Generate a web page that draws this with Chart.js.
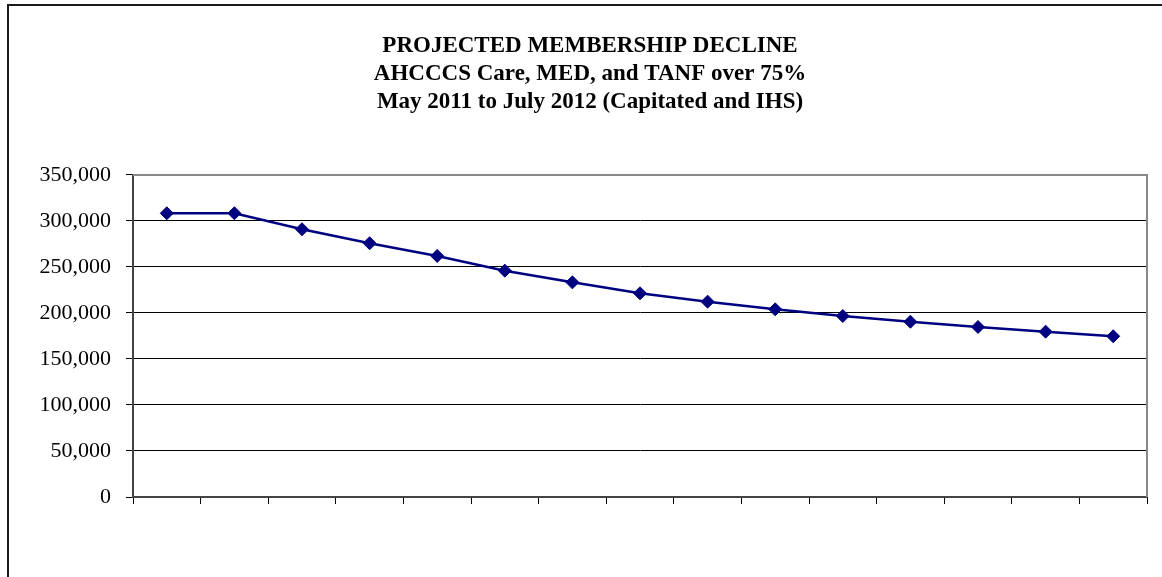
<!DOCTYPE html>
<html>
<head>
<meta charset="utf-8">
<script src="https://cdn.jsdelivr.net/npm/chart.js@4/dist/chart.umd.min.js"></script>
<style>
  html, body { margin: 0; padding: 0; background: #fff; }
  #wrap { width: 1162px; height: 577px; }
</style>
</head>
<body>
<div id="wrap"><canvas id="memberChart" width="1162" height="577"></canvas></div>
<script>
var months = ['May-11', 'Jun-11', 'Jul-11', 'Aug-11', 'Sep-11', 'Oct-11', 'Nov-11', 'Dec-11',
              'Jan-12', 'Feb-12', 'Mar-12', 'Apr-12', 'May-12', 'Jun-12', 'Jul-12'];
var members = [308400, 308400, 291000, 275800, 262000, 246000, 233300, 221400,
               212300, 204000, 196700, 190500, 184800, 179700, 174700];
var titleLines = ['PROJECTED MEMBERSHIP DECLINE',
                  'AHCCCS Care, MED, and TANF over 75%',
                  'May 2011 to July 2012 (Capitated and IHS)'];
var yMin = 0, yMax = 350000, yStep = 50000;

var serif = "'Liberation Serif', 'Times New Roman', serif";

// white page + outer chart border, grey plot frame on top/right
var framePlugin = {
  id: 'frame',
  afterLayout: function(chart) {
    // the original chart box runs past the right edge, so its title sits a bit right of centre
    if (chart.titleBlock) chart.titleBlock.right = 1180;
  },
  beforeDraw: function(chart) {
    var ctx = chart.ctx;
    ctx.save();
    ctx.fillStyle = '#fff';
    ctx.fillRect(0, 0, chart.width, chart.height);
    ctx.strokeStyle = '#1a1a1a';
    ctx.lineWidth = 2;
    ctx.strokeRect(8, 5, chart.width + 20, chart.height + 20);
    ctx.restore();
  },
  afterDatasetsDraw: function(chart) {
    var a = chart.chartArea, ctx = chart.ctx;
    ctx.save();
    ctx.strokeStyle = '#888';
    ctx.lineWidth = 2;
    ctx.beginPath();
    ctx.moveTo(a.left, a.top);
    ctx.lineTo(a.right, a.top);
    ctx.lineTo(a.right, a.bottom);
    ctx.stroke();
    ctx.restore();
  }
};

var lineChart = new Chart(document.getElementById('memberChart'), {
  type: 'line',
  data: {
    labels: months,
    datasets: [{
      data: members,
      borderColor: '#000080',
      borderWidth: 2.5,
      backgroundColor: '#000080',
      pointStyle: 'rectRot',
      pointRadius: 6.5,
      pointBorderWidth: 1,
      pointBackgroundColor: '#000080',
      pointBorderColor: '#000080',
      tension: 0,
      fill: false
    }]
  },
  options: {
    responsive: false,
    animation: false,
    devicePixelRatio: 1,
    layout: { padding: { left: 0, right: 15, top: 0, bottom: 0 } },
    plugins: {
      legend: { display: false },
      tooltip: { enabled: false },
      title: {
        display: true,
        text: titleLines,
        color: '#000',
        font: { family: serif, size: 23, weight: 'bold', lineHeight: 1.217 },
        padding: { top: 32, bottom: 59 }
      }
    },
    scales: {
      x: {
        offset: true,
        afterFit: function(scale) { scale.height = 80; },
        grid: {
          offset: true,
          drawOnChartArea: false,
          drawTicks: true,
          tickLength: 7,
          color: '#000',
          lineWidth: 1
        },
        border: { color: '#444', width: 2 },
        ticks: { display: false }
      },
      y: {
        min: yMin,
        max: yMax,
        afterFit: function(scale) { scale.width = 133; },
        grid: {
          color: '#000',
          lineWidth: 1,
          drawTicks: true,
          tickLength: 7
        },
        border: { color: '#444', width: 2 },
        ticks: {
          stepSize: yStep,
          padding: 15,
          color: '#000',
          font: { family: serif, size: 22 },
          callback: function(value) { return value.toLocaleString('en-US'); }
        }
      }
    }
  },
  plugins: [framePlugin]
});
</script>
</body>
</html>
